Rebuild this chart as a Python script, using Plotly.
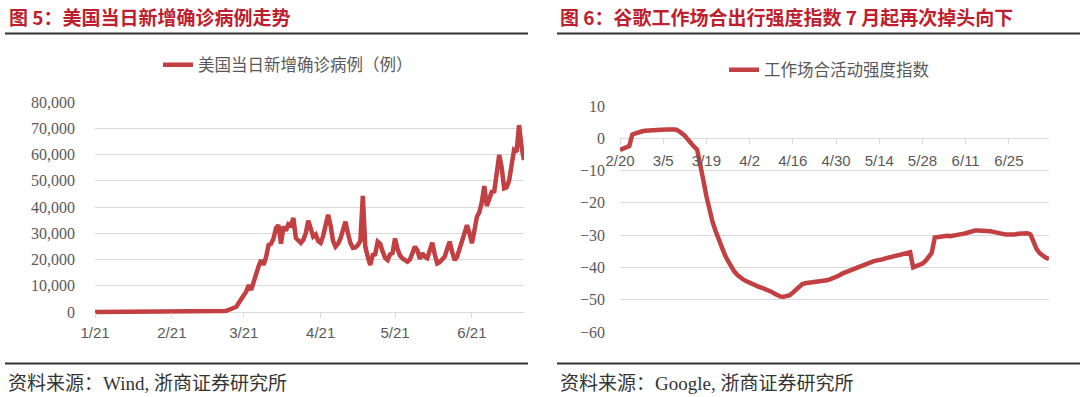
import pandas as pd
import plotly.graph_objects as go

# ---------------- data: US daily new confirmed cases (2020-01-21 .. 2020-07-12) ----------------
cases_start = "2020-01-21"
cases_jan = [1, 0, 0, 1, 1, 0, 0, 0, 0, 1, 1]
cases_feb = [1, 0, 3, 0, 0, 1, 0, 0, 0, 1, 1, 1, 0, 0, 0, 0, 0, 0, 0, 0,
             0, 0, 0, 0, 0, 1, 0, 1, 3]
cases_mar = [7, 23, 19, 33, 77, 53, 166, 116, 75, 187, 303, 328, 414, 459, 776, 1000,
             1400, 2000, 3500, 5000, 6500, 7800, 10300, 8400, 11500, 15000, 17500, 19800,
             18000, 21000, 25500]
cases_apr = [26000, 28000, 32000, 33100, 26000, 32500, 31000, 33500, 33000, 35800,
             28200, 27000, 26300, 27500, 30000, 34800, 31000, 28700, 29500, 27000,
             26300, 29000, 33000, 37000, 33000, 27000, 24900, 26000, 28000, 31000]
cases_may = [34400, 30000, 26300, 24400, 24600, 25500, 27000, 44200, 24900, 21000,
             17900, 21700, 22000, 26800, 26000, 23000, 20600, 19800, 22000, 22500,
             28000, 24000, 21500, 20400, 19600, 19200, 20000, 22000, 24900, 23500, 20200]
cases_jun = [22400, 21000, 20500, 23000, 26400, 22000, 18500, 19000, 19800, 21000,
             24000, 26800, 23000, 19800, 21000, 24900, 27000, 30000, 33100, 30000,
             26200, 31000, 36300, 38000, 42000, 48000, 40400, 43000, 45800, 46000]
cases_jul = [53000, 59800, 55000, 47100, 47500, 50000, 56000, 61700, 61000, 71200,
             63000, 57900]
us_cases = cases_jan + cases_feb + cases_mar + cases_apr + cases_may + cases_jun + cases_jul
case_dates = pd.date_range(cases_start, periods=len(us_cases), freq="D")

case_tickvals = ["2020-01-21", "2020-02-21", "2020-03-21", "2020-04-21", "2020-05-21", "2020-06-21"]
case_ticktext = ["1/21", "2/21", "3/21", "4/21", "5/21", "6/21"]
case_yticks = [0, 10000, 20000, 30000, 40000, 50000, 60000, 70000, 80000]
case_yticktext = ["0", "10,000", "20,000", "30,000", "40,000", "50,000", "60,000", "70,000", "80,000"]

# ---------------- data: Google workplace mobility index (2020-02-20 .. 2020-07-08) ----------------
mob_start = "2020-02-20"
workplace = [
    -3.6, -3.1, -2.8, -2.4, 1.2, 1.6, 1.9, 2.1, 2.3, 2.4,
    2.5, 2.6, 2.6, 2.6, 2.7, 2.7, 2.7, 2.8, 2.7, 2.3,
    1.6, 0.8, -0.4, -1.8, -2.6, -3.5, -7.5, -13.0, -18.0, -22.5,
    -26.0, -28.8, -31.5, -34.2, -36.2, -38.0, -39.8, -41.2, -42.3, -43.2,
    -43.8, -44.3, -44.8, -45.2, -45.6, -46.0, -46.3, -46.6, -47.0, -47.5,
    -48.1, -48.6, -49.0, -49.1, -49.0, -48.6, -47.8, -46.9, -46.0, -45.2,
    -44.9, -44.8, -44.7, -44.6, -44.6, -44.4, -44.2, -44.0, -43.7, -43.4,
    -43.0, -42.5, -41.9, -41.5, -41.1, -40.6, -40.2, -39.8, -39.4, -39.0,
    -38.7, -38.4, -38.1, -37.9, -37.8, -37.5, -37.2, -37.0, -36.7, -36.4,
    -36.2, -36.0, -35.8, -35.5, -35.3, -40.0, -39.7, -39.3, -38.8, -38.0,
    -36.5, -35.5, -30.7, -30.5, -30.3, -30.2, -30.2, -30.3, -30.2, -30.0,
    -29.8, -29.6, -29.4, -29.1, -28.8, -28.6, -28.6, -28.6, -28.6, -28.6,
    -28.8, -29.0, -29.1, -29.4, -29.6, -29.8, -29.9, -29.9, -29.8, -29.6,
    -29.5, -29.4, -29.4, -29.8, -32.5, -34.3, -35.6, -36.4, -37.0, -37.4,
]
mob_dates = pd.date_range(mob_start, periods=len(workplace), freq="D")

mob_tickvals = ["2020-02-20", "2020-03-05", "2020-03-19", "2020-04-02", "2020-04-16",
                "2020-04-30", "2020-05-14", "2020-05-28", "2020-06-11", "2020-06-25"]
mob_ticktext = ["2/20", "3/5", "3/19", "4/2", "4/16", "4/30", "5/14", "5/28", "6/11", "6/25"]
mob_yticks = [10, 0, -10, -20, -30, -40, -50, -60]

# ---------------- styling ----------------
W, H = 1080, 397
RED_LINE = "#C23F42"
TITLE_RED = "#BE1E2D"
GRID = "#D9D9D9"
TICK_COL = "#595959"
SERIF = "Liberation Serif, Noto Sans CJK SC"
SANS = "Liberation Sans, Noto Sans CJK SC"
CJK = "Noto Sans CJK SC"


def px_x(v):
    return v / W


def px_y(v):
    return (H - v) / H


fig = go.Figure()
fig.add_trace(go.Scatter(
    x=case_dates, y=us_cases, mode="lines", name="美国当日新增确诊病例（例）",
    line=dict(color=RED_LINE, width=4.5), xaxis="x", yaxis="y", legend="legend",
))
fig.add_trace(go.Scatter(
    x=mob_dates, y=workplace, mode="lines", name="工作场合活动强度指数",
    line=dict(color=RED_LINE, width=4.5), xaxis="x2", yaxis="y2", legend="legend2",
))

fig.update_layout(
    template="none",
    width=W, height=H, autosize=False,
    margin=dict(l=0, r=0, t=0, b=0, pad=0, autoexpand=False),
    paper_bgcolor="white", plot_bgcolor="white",
    showlegend=True,
    xaxis=dict(
        domain=[px_x(95), px_x(524)], anchor="free", position=px_y(312),
        type="date", range=["2020-01-21", "2020-07-12"],
        tickvals=case_tickvals, ticktext=case_ticktext,
        showgrid=False, zeroline=False, showline=False, automargin=False,
        ticks="outside", ticklen=5, tickcolor=GRID, tickwidth=1,
        ticklabelstandoff=2,
        tickfont=dict(family=SANS, size=15, color=TICK_COL),
    ),
    yaxis=dict(
        domain=[px_y(315.15), px_y(102)], anchor="x",
        range=[-1200, 80000], tickvals=case_yticks, ticktext=case_yticktext,
        showgrid=True, gridcolor=GRID, gridwidth=1, zeroline=False, showline=False,
        automargin=False, ticks="", ticklabelstandoff=19,
        tickfont=dict(family=SERIF, size=16, color=TICK_COL),
    ),
    xaxis2=dict(
        domain=[px_x(620), px_x(1049)], anchor="free", position=px_y(138.3),
        type="date", range=["2020-02-20", "2020-07-08"],
        tickvals=mob_tickvals, ticktext=mob_ticktext,
        showgrid=False, zeroline=False, showline=False, automargin=False,
        ticks="outside", ticklen=5, tickcolor=GRID, tickwidth=1,
        ticklabelstandoff=4,
        tickfont=dict(family=SANS, size=15, color=TICK_COL),
    ),
    yaxis2=dict(
        domain=[px_y(332), px_y(106)], anchor="x2",
        range=[-60, 10], tickvals=mob_yticks,
        showgrid=True, gridcolor=GRID, gridwidth=1, zeroline=False, showline=False,
        automargin=False, ticks="", ticklabelstandoff=14,
        tickfont=dict(family=SERIF, size=16, color=TICK_COL),
    ),
    legend=dict(
        x=px_x(158), y=px_y(65), xanchor="left", yanchor="middle",
        orientation="v", bgcolor="rgba(0,0,0,0)", borderwidth=0,
        font=dict(family=CJK, size=16.5, color=TICK_COL),
    ),
    legend2=dict(
        x=px_x(724), y=px_y(70), xanchor="left", yanchor="middle",
        orientation="v", bgcolor="rgba(0,0,0,0)", borderwidth=0,
        font=dict(family=CJK, size=16.5, color=TICK_COL),
    ),
)

annotations = [
    dict(text="<b>图 5：美国当日新增确诊病例走势</b>", x=px_x(7), y=px_y(16),
         xanchor="left", yanchor="middle", font=dict(family=CJK, size=19, color=TITLE_RED)),
    dict(text="<b>图 6：谷歌工作场合出行强度指数 7 月起再次掉头向下</b>", x=px_x(558), y=px_y(16),
         xanchor="left", yanchor="middle", font=dict(family=CJK, size=19, color=TITLE_RED)),
    dict(text="资料来源：Wind, 浙商证券研究所", x=px_x(6), y=px_y(383),
         xanchor="left", yanchor="middle", font=dict(family=SERIF, size=19, color="#333333")),
    dict(text="资料来源：Google, 浙商证券研究所", x=px_x(558), y=px_y(383),
         xanchor="left", yanchor="middle", font=dict(family=SERIF, size=19, color="#333333")),
]
for a in annotations:
    a.update(xref="paper", yref="paper", showarrow=False)
fig.update_layout(annotations=annotations)

shapes = []
for x0, x1 in [(5, 528), (557, 1080)]:
    for yy in (33.5, 363.5):
        shapes.append(dict(type="line", xref="paper", yref="paper",
                           x0=px_x(x0), x1=px_x(x1), y0=px_y(yy), y1=px_y(yy),
                           line=dict(color="#333333", width=2)))
fig.update_layout(shapes=shapes)

# remove the default 8px page margin so the 1080x397 figure fills the window exactly
fig.write_html(
    "out.html",
    config={"displayModeBar": False, "staticPlot": True},
    post_script="document.body.style.margin='0';document.body.style.overflow='hidden';",
)
